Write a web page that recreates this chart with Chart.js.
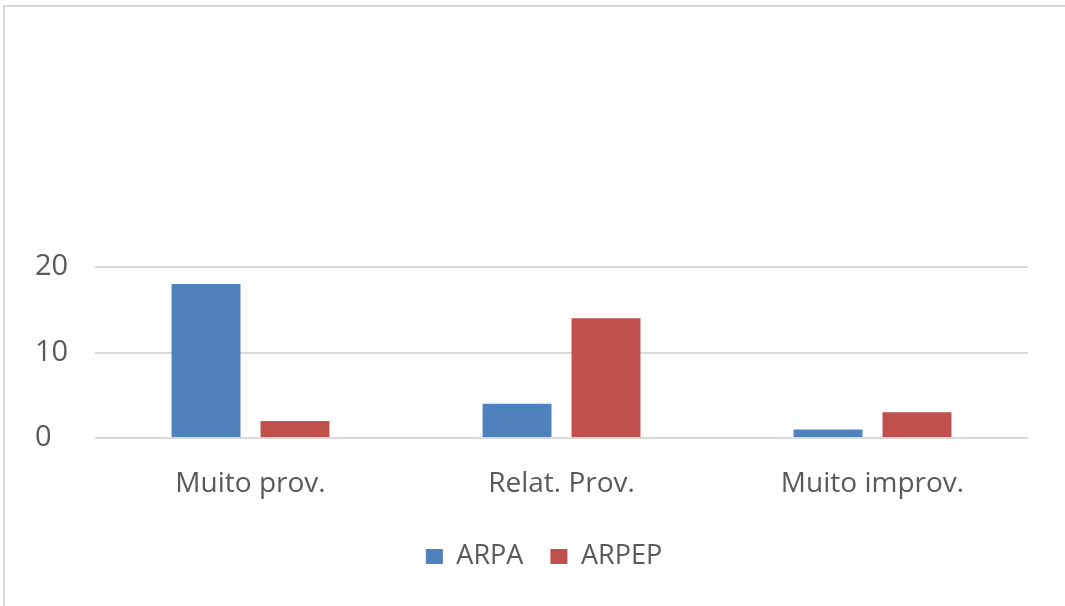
<!DOCTYPE html>
<html>
<head>
<meta charset="utf-8">
<script src="https://cdn.jsdelivr.net/npm/chart.js@4"></script>
<style>
    html, body { margin: 0; padding: 0; background: #fff; }
    #wrap { position: relative; width: 1065px; height: 606px; }
    #frame {
        position: absolute; left: 3px; top: 5px; width: 1070px; height: 620px;
        border: 2px solid #d9d9d9; box-sizing: border-box;
    }
    canvas { position: absolute; left: 0; top: 0; }
</style>
</head>
<body>
<div id="wrap">
    <div id="frame"></div>
    <canvas id="chart" width="1065" height="606"></canvas>
</div>
<script>
// Data
const categories = ['Muito prov.', 'Relat. Prov.', 'Muito improv.'];
const arpaValues = [18, 4, 1];
const arpepValues = [2, 14, 3];
const yTicks = [0, 10, 20];

const textColor = '#595959';
const gridColor = '#d9d9d9';

const ctx = document.getElementById('chart').getContext('2d');

window.mainChart = new Chart(ctx, {
    type: 'bar',
    data: {
        labels: categories,
        datasets: [{
            label: 'ARPA',
            data: arpaValues,
            backgroundColor: '#4f81bd',
            borderWidth: 0
        }, {
            label: 'ARPEP',
            data: arpepValues,
            backgroundColor: '#c0504d',
            borderWidth: 0
        }]
    },
    options: {
        responsive: false,
        animation: false,
        devicePixelRatio: 1,
        layout: {
            padding: { left: 60, right: 37, top: 267, bottom: 26 }
        },
        datasets: {
            bar: {
                categoryPercentage: 0.572,
                barPercentage: 0.775
            }
        },
        plugins: {
            legend: {
                position: 'bottom',
                labels: {
                    color: textColor,
                    boxWidth: 17,
                    boxHeight: 15,
                    padding: 27,
                    font: { family: 'Open Sans', size: 27 }
                }
            },
            tooltip: { enabled: false }
        },
        scales: {
            x: {
                afterFit: scale => { scale.height = 78; },
                grid: { display: false, drawTicks: false },
                border: { display: false },
                ticks: {
                    color: textColor,
                    padding: 29,
                    font: { family: 'Open Sans', size: 28 }
                }
            },
            y: {
                min: 0,
                max: 20,
                afterFit: scale => { scale.width = 35; },
                afterBuildTicks: scale => {
                    scale.ticks = yTicks.map(v => ({ value: v }));
                },
                grid: { color: gridColor, lineWidth: 2, drawTicks: false },
                border: { display: false },
                ticks: {
                    // labels sit left-aligned at x=35, outside the scale box
                    mirror: true,
                    crossAlign: 'near',
                    padding: -60,
                    color: textColor,
                    font: { family: 'Open Sans', size: 29 }
                }
            }
        }
    }
});
</script>
</body>
</html>
